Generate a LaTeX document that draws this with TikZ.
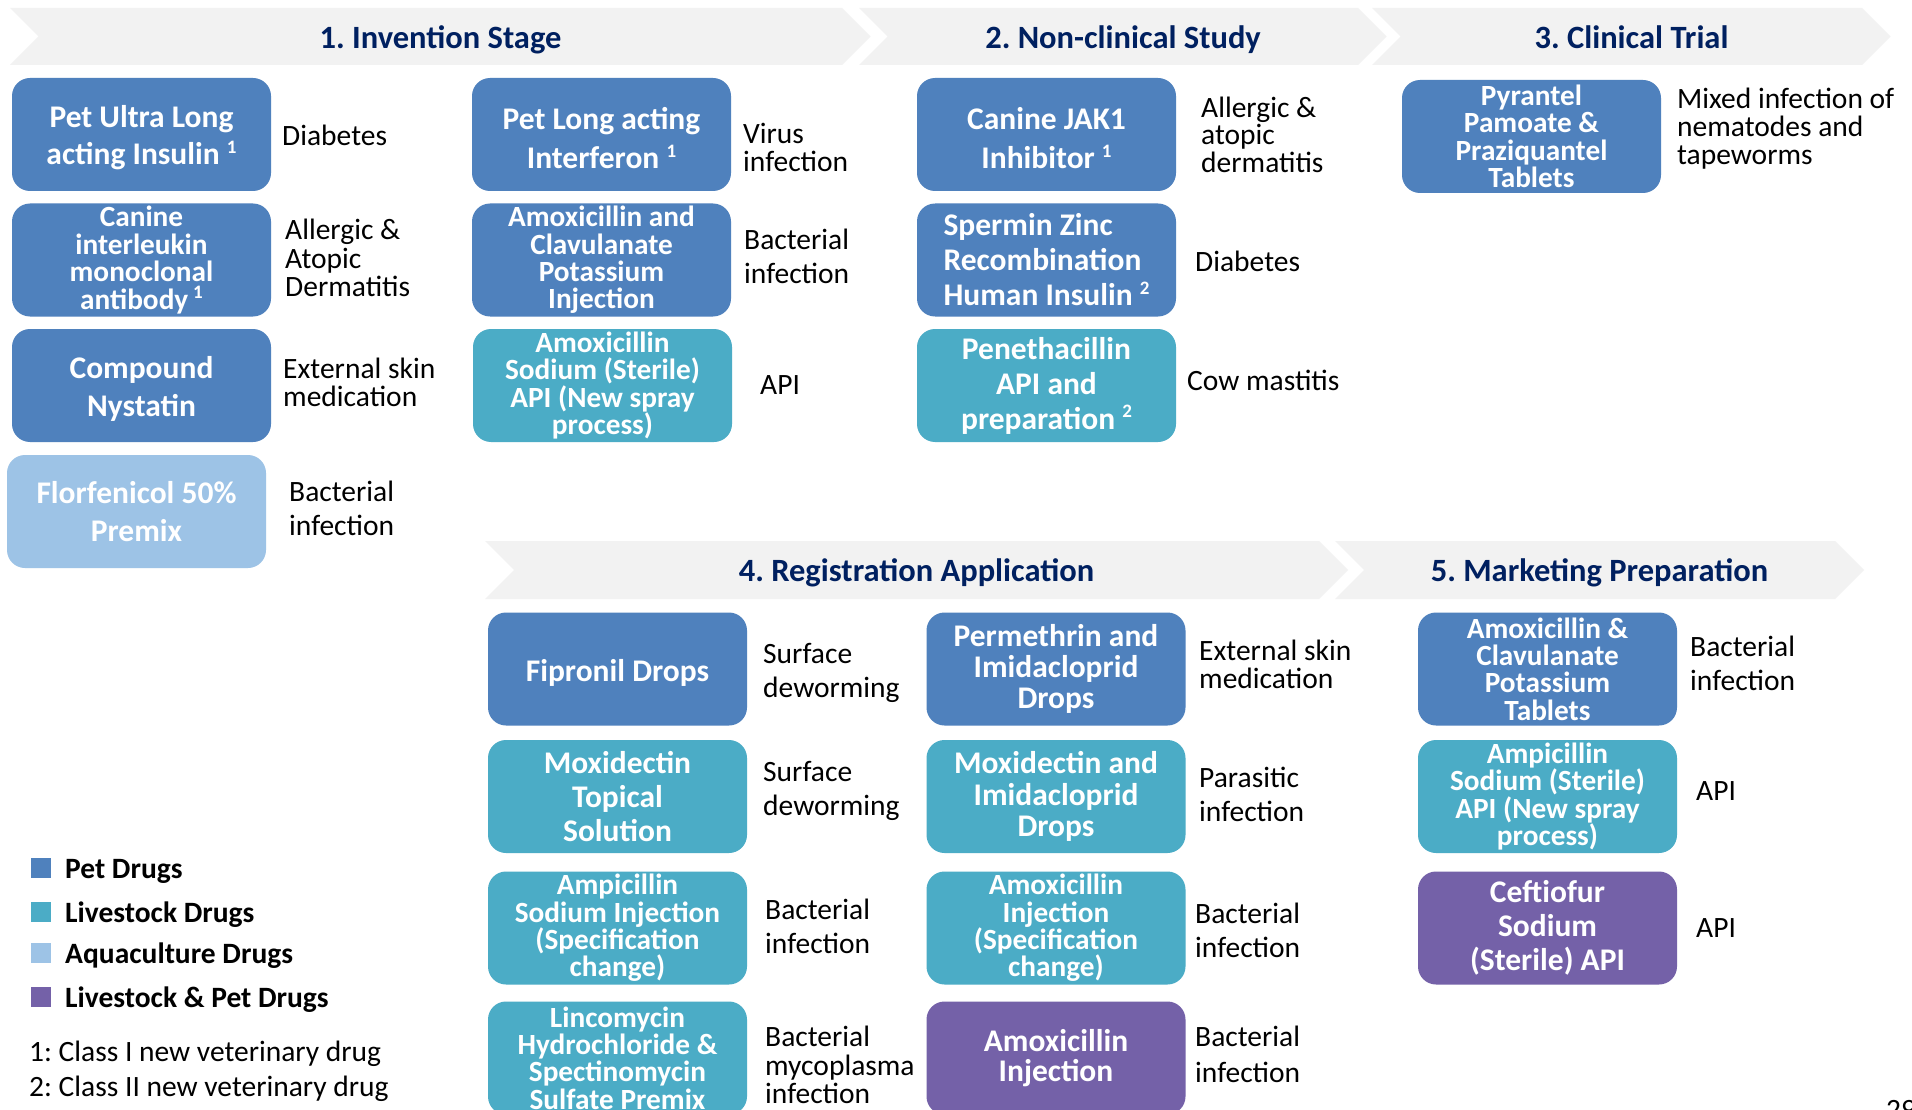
\documentclass[tikz,border=0pt]{standalone}
\usepackage{fontspec}
\setmainfont{Carlito}
\frenchspacing
\definecolor{petc}{HTML}{4F81BD}
\definecolor{livc}{HTML}{4BACC6}
\definecolor{aquc}{HTML}{9DC3E6}
\definecolor{purc}{HTML}{7461A8}
\definecolor{hdrc}{HTML}{F2F2F2}
\definecolor{navyc}{HTML}{002060}
\newcommand\supnum[1]{\raisebox{0.36em}{\fontsize{19}{19}\selectfont #1}}
\newcommand\tstrut{\rule{0pt}{29pt}}
\tikzset{
 drug/.style={rounded corners=18pt, minimum width=259pt, minimum height=113pt, inner sep=0pt, text=white, align=center, font=\bfseries\fontsize{31.5}{36}\selectfont},
 pet/.style={drug, fill=petc},
 live/.style={drug, fill=livc},
 aqua/.style={drug, fill=aquc},
 both/.style={drug, fill=purc},
 tight/.style={font=\bfseries\fontsize{29.3}{27.4}\selectfont},
 ls/.style={font=\bfseries\fontsize{31.5}{#1}\selectfont},
 lab/.style={anchor=west, align=left, inner sep=0pt, font=\fontsize{29.5}{#1}\selectfont},
 lab/.default=34,
 hdr/.style={anchor=base, inner sep=0pt, font=\bfseries\fontsize{32.5}{38}\selectfont, text=navyc},
 chevfill/.style={fill=hdrc, draw=none},
 legsq/.style={fill=#1, minimum width=20pt, minimum height=20pt, inner sep=0pt},
 legtx/.style={anchor=west, inner sep=0pt, font=\bfseries\fontsize{29.5}{34}\selectfont},
 note/.style={anchor=west, inner sep=0pt, font=\fontsize{29.5}{34}\selectfont},
}
\newcommand\mychev[4]{% x0, x1, top, bottom
  \fill[chevfill] (#1,#3) -- (#2,#3) -- ({#2+(#4-#3)/2},{(#3+#4)/2}) -- (#2,#4) -- (#1,#4) -- ({#1+(#4-#3)/2},{(#3+#4)/2}) -- cycle;}
\begin{document}
\begin{tikzpicture}[x=1pt,y=-1pt]
\useasboundingbox[fill=white] (0,0) rectangle (1912,1110);
% headers
\mychev{10}{842}{8}{65}
\mychev{859}{1358}{8}{65}
\mychev{1372}{1862}{8}{65}
\mychev{485}{1319}{541}{599}
\mychev{1335}{1835}{541}{599}
\node[hdr] (h1) at (440.5,49) {1. Invention Stage};
\node[hdr] (h2) at (1123,49) {2. Non-clinical Study};
\node[hdr] (h3) at (1631.5,49) {3. Clinical Trial};
\node[hdr] (h4) at (916.5,581) {4. Registration Application};
\node[hdr] (h5) at (1599.5,581) {5. Marketing Preparation};
% column 1
\node[pet, ls=37] (b11) at (141.5,134.5) {\tstrut Pet Ultra Long\\acting Insulin \supnum{1}};
\node[lab] (l11) at (282,135) {Diabetes};
\node[pet, tight] (b12) at (141.5,260) {Canine\\interleukin\\monoclonal\\antibody\,\supnum{1}};
\node[lab=28.5] (l12) at (285,258) {Allergic \&\\Atopic\\Dermatitis};
\node[pet, ls=38] (b13) at (141.5,385.5) {\tstrut Compound\\Nystatin};
\node[lab=28] (l13) at (283,382) {External skin\\medication};
\node[aqua, ls=38] (b14) at (136.5,511.5) {Florfenicol 50\%\\Premix};
\node[lab] (l14) at (289,508) {Bacterial\\infection};
% column 2
\node[pet, ls=39] (b21) at (601.5,134.5) {\tstrut Pet Long acting\\Interferon \supnum{1}};
\node[lab=28] (l21) at (743,147) {Virus\\infection};
\node[pet, tight] (b22) at (601.5,260) {Amoxicillin and\\Clavulanate\\Potassium\\Injection};
\node[lab] (l22) at (744,256) {Bacterial\\infection};
\node[live, tight] (b23) at (602.5,385.5) {Amoxicillin\\Sodium (Sterile)\\API (New spray\\process)};
\node[lab] (l23) at (760,385) {API};
% column 3
\node[pet, ls=39] (b31) at (1046.5,134.5) {\tstrut Canine JAK1\\Inhibitor \supnum{1}};
\node[lab=27.5] (l31) at (1201,134.5) {Allergic \&\\atopic\\dermatitis};
\node[pet, ls=35, align=left] (b32) at (1046.5,260) {Spermin Zinc\\Recombination\\Human Insulin \supnum{2}};
\node[lab] (l32) at (1195,261) {Diabetes};
\node[live, ls=35] (b33) at (1046.5,385.5) {Penethacillin\\API and\\preparation \supnum{2}};
\node[lab] (l33) at (1187,380) {Cow mastitis};
% column 4
\node[pet, tight] (b41) at (1531.5,136.5) {Pyrantel\\Pamoate \&\\Praziquantel\\Tablets};
\node[lab=28] (l41) at (1677,129) {Mixed infection of\\nematodes and\\tapeworms};
% column A
\node[pet] (bA1) at (617.5,669) {\tstrut Fipronil Drops};
\node[lab] (lA1) at (763,672.5) {Surface\\deworming};
\node[live, ls=34] (bA2) at (617.5,796.5) {Moxidectin\\Topical\\Solution};
\node[lab] (lA2) at (763,791) {Surface\\deworming};
\node[live, tight] (bA3) at (617.5,928) {Ampicillin\\Sodium Injection\\(Specification\\change)};
\node[lab] (lA3) at (765,926.5) {Bacterial\\infection};
\node[live, tight] (bA4) at (617.5,1058) {Lincomycin\\Hydrochloride \&\\Spectinomycin\\Sulfate Premix};
\node[lab=28.5] (lA4) at (765,1065) {Bacterial\\mycoplasma\\infection};
% column B
\node[pet, ls=31] (bB1) at (1056,669) {Permethrin and\\Imidacloprid\\Drops};
\node[lab=28] (lB1) at (1199,664) {External skin\\medication};
\node[live, ls=31.5] (bB2) at (1056,796.5) {Moxidectin and\\Imidacloprid\\Drops};
\node[lab] (lB2) at (1199,794) {Parasitic\\infection};
\node[live, tight] (bB3) at (1056,928) {Amoxicillin\\Injection\\(Specification\\change)};
\node[lab] (lB3) at (1195,930) {Bacterial\\infection};
\node[both, ls=30.5] (bB4) at (1056,1058) {Amoxicillin\\Injection};
\node[lab=36] (lB4) at (1195,1054) {Bacterial\\infection};
% column C
\node[pet, tight] (bC1) at (1547.5,669) {Amoxicillin \&\\Clavulanate\\Potassium\\Tablets};
\node[lab] (lC1) at (1690,663) {Bacterial\\infection};
\node[live, tight] (bC2) at (1547.5,796.5) {Ampicillin\\Sodium (Sterile)\\API (New spray\\process)};
\node[lab] (lC2) at (1696,791) {API};
\node[both, ls=34] (bC3) at (1547.5,928) {Ceftiofur\\Sodium\\(Sterile) API};
\node[lab] (lC3) at (1696,928) {API};
% legend
\node[legsq=petc] (q1) at (41,868) {};
\node[legtx] (t1) at (65,871) {Pet Drugs};
\node[legsq=livc] (q2) at (41,912) {};
\node[legtx] (t2) at (65,915) {Livestock Drugs};
\node[legsq=aquc] (q3) at (41,952.5) {};
\node[legtx] (t3) at (65,956) {Aquaculture Drugs};
\node[legsq=purc] (q4) at (41,996.5) {};
\node[legtx] (t4) at (65,999.5) {Livestock \& Pet Drugs};
\node[note] (n1) at (29,1054) {1: Class I new veterinary drug};
\node[note] (n2) at (29,1089) {2: Class II new veterinary drug};
\node[anchor=base west, inner sep=0pt, font=\fontsize{29.5}{34}\selectfont] (pg) at (1886,1119) {29};
\end{tikzpicture}
\end{document}
